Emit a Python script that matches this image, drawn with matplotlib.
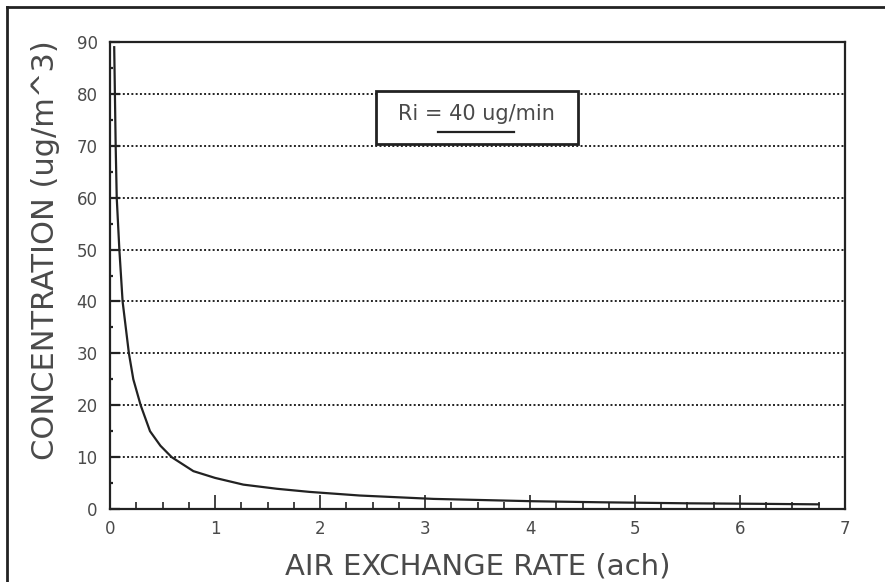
import numpy as np
import matplotlib.pyplot as plt
from matplotlib.patches import Rectangle
from matplotlib.lines import Line2D
from matplotlib.ticker import MultipleLocator

# values
ach = [0.04, 0.054, 0.064, 0.089, 0.12, 0.18, 0.222, 0.292, 0.381, 0.48, 0.587, 0.794,
       1.0, 1.27, 1.59, 1.9, 2.38, 3.08, 4.03, 4.67, 5.5, 6.2, 6.75]
conc = [89, 70, 60, 50, 40, 30, 25, 20, 15, 12.2, 10, 7.3,
        6.0, 4.7, 3.9, 3.3, 2.6, 1.95, 1.5, 1.3, 1.1, 1.0, 0.9]
grid_levels = [10, 20, 30, 40, 50, 60, 70, 80]
box_text = 'Ri = 40 ug/min'

ink = '#222222'
txt = '#4a4a4a'

fig = plt.figure(figsize=(8.85, 5.82), dpi=100)
ax = fig.add_axes([0.1243, 0.1254, 0.8305, 0.8024])

# dotted grid lines
for g in grid_levels:
    ax.axhline(g, color=ink, lw=1.4, linestyle=(0, (1, 1.2)), zorder=1)

ax.plot(ach, conc, color=ink, lw=1.6, zorder=3, solid_joinstyle='round')

ax.set_xlim(0, 7)
ax.set_ylim(0, 90)
ax.xaxis.set_major_locator(MultipleLocator(1))
ax.xaxis.set_minor_locator(MultipleLocator(0.25))
ax.yaxis.set_major_locator(MultipleLocator(10))
ax.yaxis.set_minor_locator(MultipleLocator(5))
ax.tick_params(axis='x', which='major', direction='in', length=10, width=1.2, color=ink,
               labelsize=12, labelcolor=txt, pad=8)
ax.tick_params(axis='x', which='minor', direction='in', length=5, width=1.2, color=ink)
ax.tick_params(axis='y', which='major', direction='in', length=7, width=1.6, color=ink,
               labelsize=12, labelcolor=txt, pad=9)
ax.tick_params(axis='y', which='minor', direction='in', length=2, width=1.6, color=ink)
ax.tick_params(top=False, right=False)
for s in ax.spines.values():
    s.set_color(ink)
    s.set_linewidth(1.6)

ax.set_xlabel('AIR EXCHANGE RATE (ach)', fontsize=21, color=txt, labelpad=10)
ax.set_ylabel('CONCENTRATION (ug/m^3)', fontsize=22, color=txt)
ax.yaxis.set_label_coords(-0.068, 0.555)

# annotation box
ax.add_patch(Rectangle((0.3615, 0.7815), 0.2753, 0.1145, transform=ax.transAxes,
                       fill=True, facecolor='white', edgecolor=ink, lw=2.0, zorder=4))
ax.text(0.499, 0.846, box_text, transform=ax.transAxes, ha='center', va='center',
        fontsize=15, color=txt, zorder=5)
ax.add_line(Line2D([0.446, 0.549], [0.8075, 0.8075], transform=ax.transAxes,
                   color=ink, lw=1.6, zorder=5))

# scanned page border (top and left only)
fig.add_artist(Line2D([0.0075, 0.0075], [0.0, 0.988], transform=fig.transFigure, color=ink, lw=2))
fig.add_artist(Line2D([0.0075, 1.0], [0.988, 0.988], transform=fig.transFigure, color=ink, lw=2))

fig.savefig('out.png', dpi=100)
